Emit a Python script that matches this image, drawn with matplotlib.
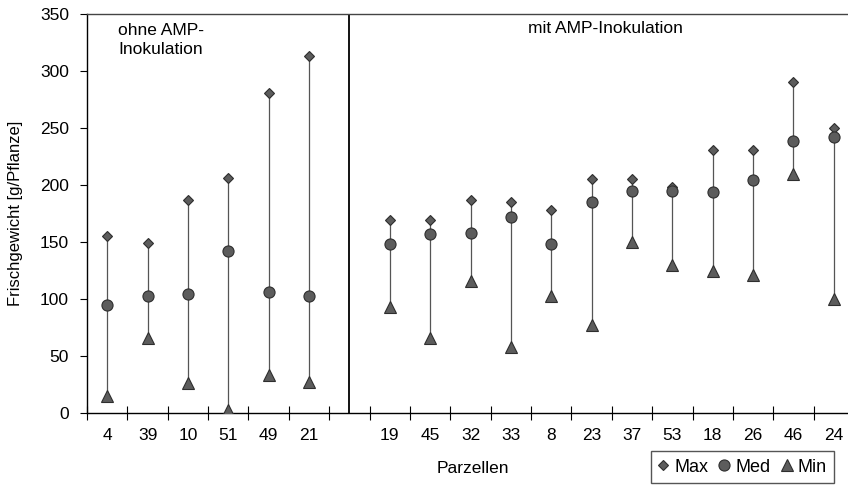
import numpy as np
import matplotlib
matplotlib.use("Agg")
import matplotlib.pyplot as plt

plt.rcParams['font.family'] = ['Liberation Sans', 'DejaVu Sans']

# Parzellen ohne AMP-Inokulation
parz_ohne = ['4', '39', '10', '51', '49', '21']
max_ohne = [155, 149, 187, 206, 281, 313]
med_ohne = [95, 103, 104, 142, 106, 103]
min_ohne = [15, 66, 26, 3, 33, 27]

# Parzellen mit AMP-Inokulation
parz_mit = ['19', '45', '32', '33', '8', '23', '37', '53', '18', '26', '46', '24']
max_mit = [169, 169, 187, 185, 178, 205, 205, 198, 231, 231, 290, 250]
med_mit = [148, 157, 158, 172, 148, 185, 195, 195, 194, 204, 239, 242]
min_mit = [93, 66, 116, 58, 103, 77, 150, 130, 125, 121, 210, 100]

labels = parz_ohne + [''] + parz_mit
xs = list(range(len(parz_ohne))) + list(range(len(parz_ohne) + 1, len(labels)))
vmax = max_ohne + max_mit
vmed = med_ohne + med_mit
vmin = min_ohne + min_mit

fig = plt.figure(figsize=(8.48, 4.90), dpi=100)
ax = fig.add_axes([0.1026, 0.157, 0.8974, 0.8144])

ax.vlines(xs, vmin, vmax, color='#555555', lw=0.9, zorder=1)
mk = dict(ls='none', mfc='#5c5c5c', mec='#2e2e2e', mew=0.8, zorder=3)
ax.plot(xs, vmax, marker='D', ms=5.5, label='Max', **mk)
ax.plot(xs, vmed, marker='o', ms=8, label='Med', **mk)
ax.plot(xs, vmin, marker='^', ms=8, label='Min', **mk)

# Trennlinie zwischen den Gruppen
ax.axvline(len(parz_ohne), color='black', lw=1.3, zorder=2)

ax.set_xlim(-0.5, 18.35)
ax.set_ylim(0, 350)
ax.set_yticks(np.arange(0, 351, 50))
ax.set_xticks(np.arange(-0.5, 18.4, 1.0))
ax.set_xticklabels([])
ax.set_xticks([x for x, l in zip(range(len(labels)), labels) if l], minor=True)
ax.set_xticklabels([l for l in labels if l], minor=True)
ax.tick_params(axis='x', which='major', direction='inout', length=10, width=0.8)
ax.tick_params(axis='x', which='minor', length=0, pad=11, labelsize=12.5)
ax.tick_params(axis='y', direction='out', length=5, width=0.8, labelsize=12.5, pad=8)

ax.spines['right'].set_visible(False)
for s in ['left', 'bottom', 'top']:
    ax.spines[s].set_linewidth(1.0)
ax.spines['top'].set_color('#444444')

ax.set_ylabel('Frischgewicht [g/Pflanze]', fontsize=12, labelpad=12)
fig.text(0.558, 0.043, 'Parzellen', fontsize=12.5, ha='center', va='center')

ax.text(0.27, 342, 'ohne AMP-\nInokulation', fontsize=12.5, ha='left', va='top',
        linespacing=1.3)
ax.text(12.35, 344, 'mit AMP-Inokulation', fontsize=12.5, ha='center', va='top')

fig.legend(loc='lower right', bbox_to_anchor=(0.994, -0.004), ncol=3,
           fancybox=False, edgecolor='#555555', framealpha=1, fontsize=13,
           handlelength=0.6, handletextpad=0.3, columnspacing=0.6,
           borderpad=0.4)

fig.savefig('out.png', dpi=100)
